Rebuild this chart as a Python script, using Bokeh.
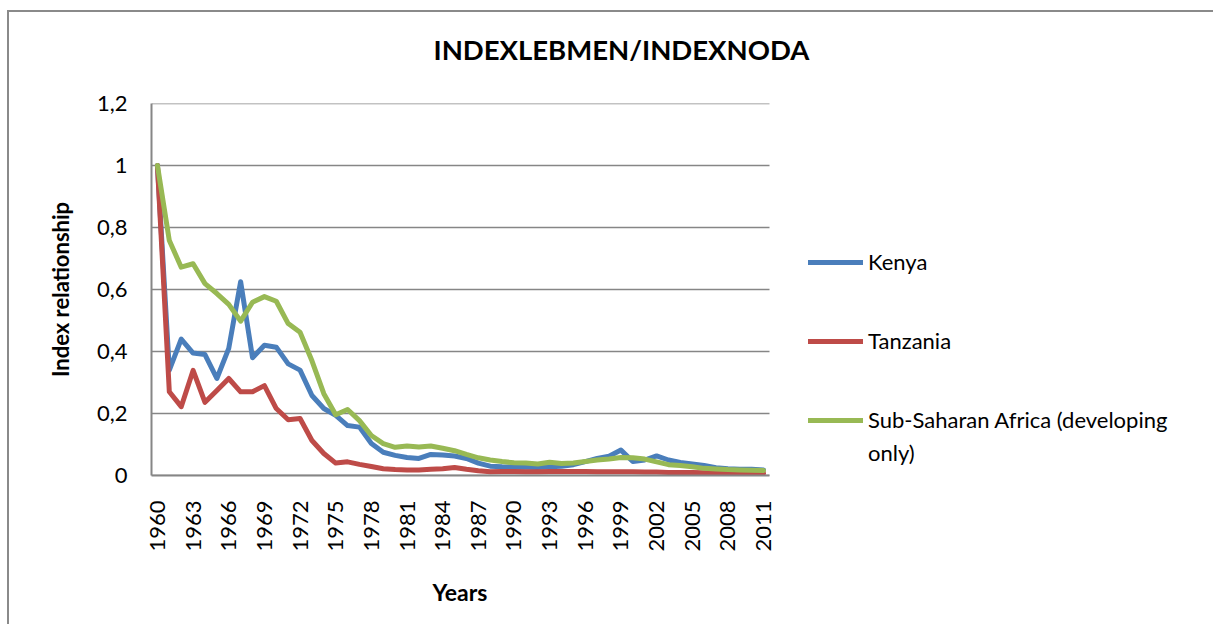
from bokeh.plotting import figure
from bokeh.models import (Range1d, FixedTicker, CustomJSTickFormatter, Legend, LegendItem, Title)
from bokeh.embed import file_html
from bokeh.resources import INLINE
import math

years = list(range(1960, 2012))

kenya = [1.0, 0.34, 0.44, 0.395, 0.39, 0.313, 0.41, 0.625, 0.38, 0.42,
         0.414, 0.36, 0.34, 0.258, 0.216, 0.194, 0.161, 0.156, 0.103, 0.075,
         0.065, 0.058, 0.055, 0.068, 0.066, 0.063, 0.055, 0.04, 0.03, 0.028,
         0.027, 0.027, 0.026, 0.028, 0.03, 0.035, 0.045, 0.055, 0.062, 0.082,
         0.045, 0.05, 0.063, 0.05, 0.042, 0.037, 0.032, 0.025, 0.022, 0.02,
         0.02, 0.018]

tanzania = [1.0, 0.27, 0.222, 0.339, 0.236, 0.274, 0.313, 0.27, 0.27, 0.29,
            0.216, 0.18, 0.184, 0.113, 0.071, 0.04, 0.044, 0.036, 0.029, 0.022,
            0.019, 0.018, 0.018, 0.02, 0.022, 0.026, 0.02, 0.015, 0.012, 0.013,
            0.013, 0.012, 0.012, 0.013, 0.013, 0.013, 0.013, 0.012, 0.012, 0.012,
            0.012, 0.011, 0.011, 0.01, 0.01, 0.01, 0.009, 0.008, 0.007, 0.006,
            0.006, 0.007]

ssa = [1.0, 0.758, 0.672, 0.683, 0.619, 0.587, 0.552, 0.498, 0.559, 0.577,
       0.562, 0.49, 0.462, 0.37, 0.264, 0.196, 0.213, 0.177, 0.129, 0.103,
       0.091, 0.095, 0.092, 0.095, 0.088, 0.08, 0.068, 0.057, 0.05, 0.045,
       0.041, 0.04, 0.037, 0.043, 0.039, 0.04, 0.045, 0.05, 0.053, 0.058,
       0.057, 0.053, 0.044, 0.035, 0.032, 0.028, 0.023, 0.021, 0.019, 0.018,
       0.017, 0.016]

series_names = ["Kenya", "Tanzania", "Sub-Saharan Africa (developing"]
ssa_label_cont = "only)"
series_colors = ["#4A7EBB", "#BE4B48", "#98B954"]
y_ticks = [0, 0.2, 0.4, 0.6, 0.8, 1.0, 1.2]
x_ticks = list(range(1960, 2012, 3))

FONT = "Lato"
GRAY = "#868686"

# plot area (data part) spans the 52 year slots; the frame continues to the right
# to host the legend, which otherwise would be clipped.
X0 = years[0] - 0.5
X1 = years[-1] + 0.5
DATA_W = 618
FRAME_W = 1054
X_END = X0 + (X1 - X0) * FRAME_W / DATA_W

p = figure(frame_width=FRAME_W, frame_height=372, output_backend="svg", toolbar_location=None,
           x_range=Range1d(X0, X_END), y_range=Range1d(0, 1.2),
           min_border_left=142, min_border_right=10, min_border_top=91,
           min_border_bottom=150, outline_line_alpha=0,
           styles={"margin-left": "9px", "margin-top": "12px",
                   "box-shadow": "-2px -2px 0 0 #8a8a8a"})

p.title = Title(text="INDEXLEBMEN/INDEXNODA\n ", align="left", offset=282,
                text_font=FONT, text_font_size="27.5px", text_font_style="bold",
                text_color="#000000", standoff=10)

# horizontal gridlines limited to the plot area
p.segment(x0=[X0] * len(y_ticks), y0=y_ticks, x1=[X1] * len(y_ticks), y1=y_ticks,
          line_color=GRAY, line_width=1.5)

renderers = []
for vals, col in zip([kenya, tanzania, ssa], series_colors):
    r = p.line(years, vals, line_color=col, line_width=5, line_join="round", line_cap="round")
    renderers.append(r)
# invisible carrier for the wrapped second line of the third legend label
carrier = p.line(years, ssa, line_alpha=0)

# axes
p.xaxis.ticker = FixedTicker(ticks=x_ticks)
p.xaxis.bounds = (X0, X1)
p.yaxis.ticker = FixedTicker(ticks=y_ticks)
p.yaxis.formatter = CustomJSTickFormatter(code="""
    if (Math.abs(tick) < 1e-9) return '0';
    if (Math.abs(tick - 1) < 1e-9) return '1';
    return tick.toFixed(1).replace('.', ',');
""")
for ax in (p.xaxis[0], p.yaxis[0]):
    ax.axis_line_color = GRAY
    ax.axis_line_width = 2
    ax.major_tick_in = 0
    ax.major_tick_out = 0
    ax.minor_tick_in = 0
    ax.minor_tick_out = 0
    ax.major_label_text_font = FONT
    ax.major_label_text_font_size = "22px"
    ax.major_label_text_color = "#000000"
    ax.axis_label_text_font = FONT
    ax.axis_label_text_font_style = "bold"
    ax.axis_label_text_font_size = "22px"
    ax.axis_label_text_color = "#000000"

p.xaxis.major_label_orientation = math.pi / 2
p.xaxis.major_label_standoff = 25

# x-axis title centred under the data area (not the whole frame)
p.add_layout(Title(text="Years", align="left", offset=281,
                   text_font=FONT, text_font_size="23px", text_font_style="bold",
                   text_color="#000000", standoff=42), "below")

p.yaxis.major_label_standoff = 24
p.yaxis.axis_label = "Index relationship"
p.yaxis.axis_label_standoff = 20

p.xgrid.grid_line_color = None
p.ygrid.grid_line_color = None

common = dict(border_line_alpha=0, background_fill_alpha=0, padding=0, margin=0,
              label_text_font=FONT, label_text_font_size="22px",
              label_text_color="#000000", label_height=20, glyph_height=20)

items = [LegendItem(label=n, renderers=[r]) for n, r in zip(series_names, renderers)]
legend = Legend(items=items, location=(657, 42), orientation="vertical",
                spacing=52, glyph_width=55, label_standoff=5, **common)
p.add_layout(legend, "center")

legend2 = Legend(items=[LegendItem(label=ssa_label_cont, renderers=[carrier])],
                 location=(716, 9), orientation="vertical",
                 spacing=0, glyph_width=1, label_standoff=0, **common)
p.add_layout(legend2, "center")

open("out.html", "w").write(file_html(p, INLINE))
